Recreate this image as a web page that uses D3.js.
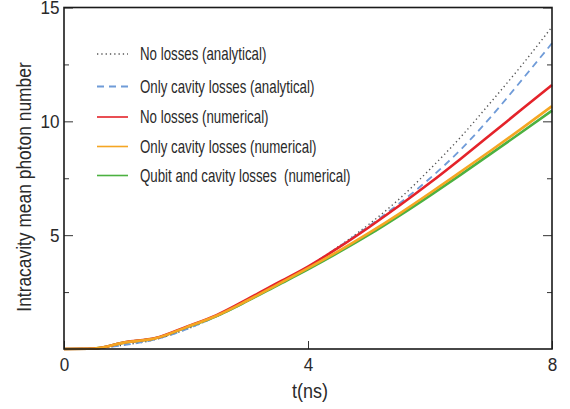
<!DOCTYPE html>
<html>
<head>
<meta charset="utf-8">
<script src="https://cdn.jsdelivr.net/npm/d3@7"></script>
<style>
  body { margin: 0; background: #fff; }
  text { font-family: "Liberation Sans", Arial, sans-serif; fill: #2a2a2a; }
</style>
</head>
<body>
<div id="chart"></div>
<script>
// time axis (ns)
var tVals = [0, 0.5, 1, 1.5, 2, 2.5, 3, 3.5, 4, 4.5, 5, 5.5, 6, 6.5, 7, 7.5, 8];

// mean photon number for each curve
var noLossAnalytic   = [0, 0.03, 0.18, 0.42, 0.86, 1.43, 2.1, 2.85, 3.62, 4.5, 5.48, 6.6, 7.9, 9.3, 10.85, 12.45, 14.15];
var cavityAnalytic   = [0, 0.03, 0.18, 0.42, 0.86, 1.43, 2.1, 2.85, 3.6, 4.48, 5.4, 6.4, 7.5, 8.75, 10.2, 11.8, 13.43];
var noLossNum        = [0, 0.02, 0.3, 0.48, 0.97, 1.49, 2.18, 2.9, 3.62, 4.45, 5.35, 6.3, 7.3, 8.35, 9.43, 10.52, 11.6];
var cavityNum        = [0, 0.02, 0.29, 0.47, 0.95, 1.46, 2.12, 2.83, 3.55, 4.3, 5.1, 5.95, 6.85, 7.78, 8.72, 9.68, 10.67];
var qubitCavityNum   = [0, 0.02, 0.29, 0.47, 0.94, 1.45, 2.1, 2.8, 3.5, 4.24, 5.02, 5.86, 6.74, 7.65, 8.58, 9.52, 10.47];

var legendLabels = [
  "No losses (analytical)",
  "Only cavity losses (analytical)",
  "No losses (numerical)",
  "Only cavity losses (numerical)",
  "Qubit and cavity losses\u00a0 (numerical)"
];

var xTicks = [0, 4, 8];
var yTicks = [5, 10, 15];
var yMinor = [2.5, 7.5, 12.5];

var series = [
  {name: legendLabels[0], values: noLossAnalytic, color: "#555", width: 1.4, dash: "1.3,3"},
  {name: legendLabels[1], values: cavityAnalytic, color: "#6f9bd8", width: 1.8, dash: "7,5"},
  {name: legendLabels[2], values: noLossNum, color: "#e4232a", width: 2.6, dash: null},
  {name: legendLabels[3], values: cavityNum, color: "#f5a623", width: 2.6, dash: null},
  {name: legendLabels[4], values: qubitCavityNum, color: "#4cb140", width: 2.6, dash: null}
];
// draw order: analytic first, then green, red, orange on top
var drawOrder = [0, 1, 4, 2, 3];

var W = 570, H = 409;
var plotLeft = 64, plotRight = 552, plotTop = 7.5, plotBottom = 349;

var svg = d3.select("#chart").append("svg")
    .attr("width", W)
    .attr("height", H);

var x = d3.scaleLinear().domain([0, 8]).range([plotLeft, plotRight]);
var y = d3.scaleLinear().domain([0, 15]).range([plotBottom, plotTop]);

// curves
var line = d3.line()
    .x(function(d) { return x(d[0]); })
    .y(function(d) { return y(d[1]); })
    .curve(d3.curveMonotoneX);

drawOrder.forEach(function(i) {
  var s = series[i];
  svg.append("path")
    .datum(tVals.map(function(t, k) { return [t, s.values[k]]; }))
    .attr("fill", "none")
    .attr("stroke", s.color)
    .attr("stroke-width", s.width)
    .attr("stroke-dasharray", s.dash)
    .attr("d", line);
});

// left axis, ticks pointing inside
var yAxis = svg.append("g")
    .attr("transform", "translate(" + plotLeft + ",0)")
    .call(d3.axisLeft(y).tickValues(yTicks).tickSizeInner(-9).tickSizeOuter(0).tickPadding(5));
yAxis.select(".domain").remove();
yAxis.selectAll("line").attr("stroke", "#333");
yAxis.selectAll("text")
    .style("font-size", "19px")
    .attr("fill", "#2a2a2a")
    .attr("transform", "scale(0.9,1)");

var yAxisMinor = svg.append("g")
    .attr("transform", "translate(" + plotLeft + ",0)")
    .call(d3.axisLeft(y).tickValues(yMinor).tickSizeInner(-5).tickSizeOuter(0).tickFormat(""));
yAxisMinor.select(".domain").remove();
yAxisMinor.selectAll("line").attr("stroke", "#333");

// right axis, ticks only
var yRight = svg.append("g")
    .attr("transform", "translate(" + plotRight + ",0)")
    .call(d3.axisRight(y).tickValues(yTicks).tickSizeInner(-9).tickSizeOuter(0).tickFormat(""));
yRight.select(".domain").remove();
yRight.selectAll("line").attr("stroke", "#333");

var yRightMinor = svg.append("g")
    .attr("transform", "translate(" + plotRight + ",0)")
    .call(d3.axisRight(y).tickValues(yMinor).tickSizeInner(-5).tickSizeOuter(0).tickFormat(""));
yRightMinor.select(".domain").remove();
yRightMinor.selectAll("line").attr("stroke", "#333");

// bottom axis
var xAxis = svg.append("g")
    .attr("transform", "translate(0," + plotBottom + ")")
    .call(d3.axisBottom(x).tickValues(xTicks).tickSizeInner(-8).tickSizeOuter(0).tickPadding(9));
xAxis.select(".domain").remove();
xAxis.selectAll("line").attr("stroke", "#333");
xAxis.selectAll("text")
    .style("font-size", "19px")
    .attr("fill", "#2a2a2a")
    .attr("transform", "scale(0.9,1)");

// frame
svg.append("rect")
    .attr("x", plotLeft)
    .attr("y", plotTop)
    .attr("width", plotRight - plotLeft)
    .attr("height", plotBottom - plotTop)
    .attr("fill", "none")
    .attr("stroke", "#1a1a1a")
    .attr("stroke-width", 1.6);

// axis titles (narrowed to mimic the condensed font)
svg.append("text")
    .attr("transform", "translate(" + ((plotLeft + plotRight) / 2 + 2) + ",398) scale(0.9,1)")
    .attr("text-anchor", "middle")
    .style("font-size", "20px")
    .text("t(ns)");

svg.append("text")
    .attr("transform", "translate(31,187) rotate(-90) scale(0.87,1)")
    .attr("text-anchor", "middle")
    .style("font-size", "20px")
    .text("Intracavity mean photon number");

// legend
var legendY = [54, 86.5, 117, 146.5, 175.5];
var legend = svg.append("g");
series.forEach(function(s, i) {
  legend.append("line")
    .attr("x1", 97).attr("x2", 128)
    .attr("y1", legendY[i]).attr("y2", legendY[i])
    .attr("stroke", s.color)
    .attr("stroke-width", s.dash ? s.width : 1.6)
    .attr("stroke-dasharray", s.dash);
  legend.append("text")
    .attr("transform", "translate(140," + legendY[i] + ") scale(0.76,1)")
    .attr("dy", "0.35em")
    .style("font-size", "17.5px")
    .text(s.name);
});
</script>
</body>
</html>
